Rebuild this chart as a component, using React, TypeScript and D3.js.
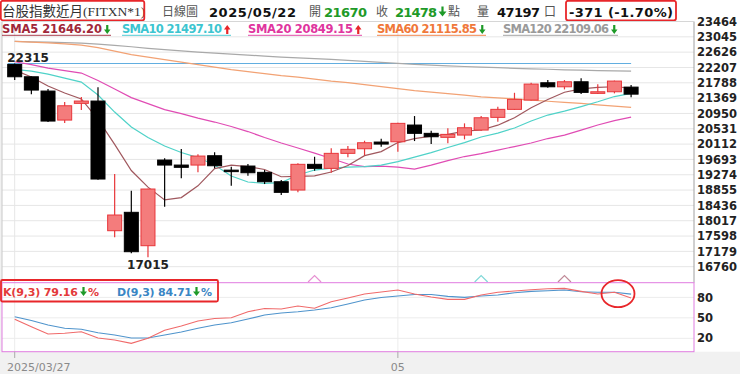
import React from 'react';
import * as d3 from 'd3';

// ---- data ----
const opens = [22290, 21953, 21562, 20769, 21226, 21289, 17744, 18247, 17334, 19676, 19539, 19539, 19794, 19400, 19512, 19340, 19083, 18856, 19559, 19449, 19859, 19985, 20168, 20176, 20633, 20406, 20297, 20359, 20496, 20843, 21062, 21316, 21789, 21679, 21816, 21499, 21543, 21670];
const highs = [22315, 21960, 21617, 21261, 21398, 21663, 19293, 18837, 18890, 19722, 19977, 19832, 19887, 19493, 19567, 19403, 19130, 19586, 19766, 19996, 20059, 20204, 20258, 20696, 20879, 20477, 20542, 20679, 20879, 21133, 21515, 21789, 21863, 21863, 21909, 21745, 21849, 21726];
const lows = [21863, 21472, 20715, 20688, 21043, 19140, 17563, 17126, 17015, 18400, 19176, 19340, 19449, 18974, 19247, 19020, 18720, 18793, 19384, 19329, 19750, 19805, 20040, 19903, 20195, 20113, 20133, 20242, 20480, 20723, 21050, 21302, 21652, 21608, 21480, 21480, 21499, 21390];
const closes = [21953, 21589, 20742, 21160, 21289, 19157, 18173, 17170, 18884, 19539, 19477, 19785, 19520, 19370, 19329, 19083, 18793, 19559, 19449, 19859, 19969, 20149, 20113, 20679, 20406, 20313, 20378, 20559, 20832, 21062, 21335, 21753, 21679, 21816, 21526, 21543, 21835, 21478];

const sma5 = [22135, 21945, 21700, 21510, 21347, 20787, 20104, 19390, 18935, 18585, 18649, 18971, 19441, 19538, 19496, 19417, 19219, 19227, 19243, 19349, 19526, 19797, 19908, 20154, 20263, 20332, 20378, 20467, 20498, 20629, 20833, 21108, 21332, 21529, 21622, 21663, 21680, 21646];
const sma10 = [22155, 22108, 22026, 21917, 21808, 21453, 20988, 20578, 20291, 20059, 19881, 19744, 19539, 19239, 19075, 19039, 19061, 19266, 19403, 19457, 19485, 19498, 19539, 19635, 19758, 19881, 20018, 20154, 20305, 20414, 20551, 20742, 20906, 21015, 21138, 21269, 21412, 21497];
const sma20 = [22363, 22286, 22191, 22122, 22054, 21849, 21617, 21384, 21220, 21056, 20947, 20824, 20715, 20592, 20455, 20291, 20141, 20004, 19867, 19717, 19567, 19498, 19512, 19485, 19430, 19539, 19662, 19772, 19854, 19949, 20045, 20141, 20264, 20359, 20496, 20633, 20756, 20849];
const sma60 = [22920, 22901, 22879, 22852, 22819, 22751, 22655, 22559, 22491, 22423, 22354, 22286, 22218, 22149, 22095, 22040, 21985, 21945, 21890, 21835, 21794, 21740, 21685, 21630, 21576, 21535, 21494, 21453, 21403, 21376, 21349, 21316, 21283, 21253, 21226, 21187, 21152, 21116];
const sma120 = [22920, 22909, 22898, 22887, 22874, 22846, 22811, 22773, 22729, 22693, 22660, 22628, 22600, 22573, 22546, 22518, 22491, 22469, 22447, 22428, 22401, 22374, 22346, 22319, 22294, 22272, 22253, 22234, 22218, 22201, 22185, 22171, 22158, 22144, 22133, 22122, 22114, 22109];

const kValues = [47.9, 37, 26.3, 27.4, 29.7, 20.5, 17.6, 12.7, 20, 31.8, 38, 45.4, 49, 50.2, 59, 63.7, 63, 67.3, 64, 73.6, 79, 84.9, 87.8, 90.7, 84.9, 80.5, 77.1, 77.1, 83.4, 87.4, 89.3, 91.2, 92.6, 93.2, 88.8, 84.9, 87.4, 79.16];
const dValues = [51.7, 46.1, 39.5, 34.7, 33.2, 28.2, 24.9, 20.5, 20.5, 24.9, 29.3, 34.7, 39.5, 42.9, 48.3, 54.1, 57.1, 59, 61.5, 64.8, 70.2, 76.1, 79.8, 82, 84.2, 84.2, 81.5, 80, 82, 83.4, 86.8, 88.8, 89.7, 90.7, 88.2, 87.4, 87.4, 84.71];

const priceTicks = [16760, 17179, 17598, 18017, 18436, 18855, 19274, 19693, 20112, 20531, 20950, 21369, 21788, 22207, 22626, 23045, 23464];
const kdTicks = [20, 50, 80];
const dateTicks = [
  { index: 0, label: '2025/03/27' },
  { index: 23, label: '05' },
];
const crossMarkers = [
  { index: 18, color: '#e690d2' },
  { index: 28, color: '#80d8d8' },
  { index: 33, color: '#c08a98' },
];
const periodHigh = { index: 0, value: 22315 };
const periodLow = { index: 8, value: 17015 };

const smaLegend = [
  { name: 'SMA5', value: '21646.20', up: false, color: '#a0283a', x: 2, w: 100 },
  { name: 'SMA10', value: '21497.10', up: true, color: '#3cc5d0', x: 122, w: 100 },
  { name: 'SMA20', value: '20849.15', up: true, color: '#e0359e', x: 248, w: 105 },
  { name: 'SMA60', value: '21115.85', up: false, color: '#f0783a', x: 377, w: 100 },
  { name: 'SMA120', value: '22109.06', up: false, color: '#9a9a9a', x: 503, w: 106 },
];

const smaSeries = [
  { data: sma120, color: '#a9a9a9' },
  { data: sma60, color: '#f2a274' },
  { data: sma20, color: '#e04cb4' },
  { data: sma10, color: '#4fd2c8' },
  { data: sma5, color: '#a0585e' },
];

const W = 740;
const H = 374;
const NUM = "'DejaVu Sans', Verdana, sans-serif";
const CJK = "'Liberation Serif', 'Noto Sans CJK TC', serif";
const GREEN = '#1e9a28';
const RED = '#e8262a';

function Arrow({ x, y, up, color, h = 9, w = 7 }: { x: number; y: number; up: boolean; color: string; h?: number; w?: number }) {
  const cx = x + w / 2;
  const sw = 2.2;
  const headH = h * 0.5;
  let d: string;
  if (up) {
    d = `M${cx} ${y} L${x + w} ${y + headH} L${cx + sw / 2} ${y + headH} L${cx + sw / 2} ${y + h} L${cx - sw / 2} ${y + h} L${cx - sw / 2} ${y + headH} L${x} ${y + headH} Z`;
  } else {
    d = `M${cx} ${y + h} L${x + w} ${y + h - headH} L${cx + sw / 2} ${y + h - headH} L${cx + sw / 2} ${y} L${cx - sw / 2} ${y} L${cx - sw / 2} ${y + h - headH} L${x} ${y + h - headH} Z`;
  }
  return <path d={d} fill={color} />;
}

export default function App() {
  const n = closes.length;
  const x = d3.scaleLinear().domain([0, n - 1]).range([14.7, 631.1]);
  const y = d3.scaleLinear().domain([16760, 23464]).range([266.7, 21.5]);
  const kdY = d3.scaleLinear().domain([0, 100]).range([352, 283.7]);

  const priceLine = d3.line<number>().x((_, i) => x(i)).y((d) => y(d));
  const kdLine = d3.line<number>().x((_, i) => x(i)).y((d) => kdY(d));

  const panelL = 2;
  const panelR = 694;
  const panelT = 21.5;
  const panelB = 282;
  const kdT = 282.7;
  const kdB = 351.7;
  const bodyW = 14;

  return (
    <svg width={W} height={H} style={{ position: 'absolute', left: 0, top: 0, background: '#ffffff' }}>
      <rect x={0} y={0} width={W} height={H} fill="#ffffff" />
      <rect x={0} y={kdB} width={W} height={H - kdB} fill="#f1f1f1" />
      <rect x={0} y={panelT} width={panelL} height={kdB - panelT} fill="#f1f1f1" />

      {/* header */}
      <text x={2} y={15.5} fontFamily={CJK} fontSize={13.5} fill="#333">台股指數近月(FITXN*1)</text>
      <rect x={0.8} y={0.8} width={143.5} height={19.5} rx={2} fill="none" stroke={RED} strokeWidth={1.8} />
      <text x={162} y={16} fontFamily={CJK} fontSize={12} fill="#555">日線圖</text>
      <text x={209} y={16.5} fontFamily={NUM} fontWeight="bold" fontSize={13} fill="#111" textLength={87} lengthAdjust="spacing">2025/05/22</text>
      <text x={309} y={16} fontFamily={CJK} fontSize={12} fill="#555">開</text>
      <text x={324} y={16.5} fontFamily={NUM} fontWeight="bold" fontSize={13} fill={GREEN} textLength={43} lengthAdjust="spacing">21670</text>
      <text x={376} y={16} fontFamily={CJK} fontSize={12} fill="#555">收</text>
      <text x={395} y={16.5} fontFamily={NUM} fontWeight="bold" fontSize={13} fill={GREEN} textLength={42} lengthAdjust="spacing">21478</text>
      <Arrow x={438.5} y={6.5} up={false} color={GREEN} h={10} w={8} />
      <text x={448} y={16} fontFamily={CJK} fontSize={12} fill="#555">點</text>
      <text x={477} y={16} fontFamily={CJK} fontSize={12} fill="#555">量</text>
      <text x={497} y={16.5} fontFamily={NUM} fontWeight="bold" fontSize={13} fill="#111" textLength={43} lengthAdjust="spacing">47197</text>
      <text x={544} y={16} fontFamily={CJK} fontSize={12} fill="#555">口</text>
      <text x={569} y={16.5} fontFamily={NUM} fontWeight="bold" fontSize={13} fill="#111" textLength={104} lengthAdjust="spacing">-371 (-1.70%)</text>
      <rect x={566} y={0.8} width={110} height={19.5} rx={2} fill="none" stroke={RED} strokeWidth={1.8} />

      {/* main panel */}
      <rect x={panelL} y={panelT} width={panelR - panelL} height={panelB - panelT} fill="#ffffff" />
      {priceTicks.map((t) => (
        <line key={'g' + t} x1={panelL} x2={panelR} y1={y(t)} y2={y(t)} stroke="#e6e6e6" strokeWidth={1} />
      ))}
      {dateTicks.map((t) => (
        <line key={'vg' + t.index} x1={x(t.index)} x2={x(t.index)} y1={panelT} y2={kdB} stroke="#e6e6e6" strokeWidth={1} />
      ))}
      <line x1={panelL} x2={panelL} y1={panelT} y2={panelB} stroke="#c8c8c8" />
      <line x1={panelR} x2={panelR} y1={panelT} y2={kdT} stroke="#a0a0a0" />
      <line x1={panelL} x2={panelR} y1={panelT} y2={panelT} stroke="#d6d6d6" />

      {/* SMA legend */}
      {smaLegend.map((s) => (
        <g key={s.name}>
          <text x={s.x} y={33} fontFamily={NUM} fontWeight="bold" fontSize={11.5} fill={s.color} textLength={s.w} lengthAdjust="spacing">
            {s.name} {s.value}
          </text>
          <line x1={s.x} x2={s.x + s.w + 9} y1={35.3} y2={35.3} stroke={s.color} strokeWidth={0.9} />
          <Arrow x={s.x + s.w + 2} y={25} up={s.up} color={s.up ? RED : GREEN} h={9} w={6.5} />
        </g>
      ))}

      {/* period high line */}
      <line x1={x(periodHigh.index) - 7} x2={x(n - 1)} y1={y(periodHigh.value)} y2={y(periodHigh.value)} stroke="#62aee0" strokeWidth={1.1} />

      {/* moving averages */}
      {smaSeries.map((s, k) => (
        <path key={'sma' + k} d={priceLine(s.data) || ''} fill="none" stroke={s.color} strokeWidth={1.2} />
      ))}

      {/* candles */}
      {closes.map((c, i) => {
        const o = opens[i];
        const up = c >= o;
        const cx = x(i);
        const top = y(Math.max(o, c));
        const bot = y(Math.min(o, c));
        const h = Math.max(bot - top, 1.5);
        const col = up ? '#e8363a' : '#000000';
        return (
          <g key={'c' + i}>
            <line x1={cx} x2={cx} y1={y(highs[i])} y2={y(lows[i])} stroke={col} strokeWidth={1.2} />
            <rect x={cx - bodyW / 2} y={top} width={bodyW} height={h} fill={up ? '#f47c7c' : '#000000'} stroke={col} strokeWidth={1} />
          </g>
        );
      })}

      {/* high/low labels */}
      <text x={x(periodHigh.index) - 7.5} y={62} fontFamily={NUM} fontWeight="bold" fontSize={12} fill="#222">{periodHigh.value}</text>
      <text x={x(periodLow.index)} y={268.5} textAnchor="middle" fontFamily={NUM} fontWeight="bold" fontSize={12} fill="#222">{periodLow.value}</text>

      {/* price axis */}
      {priceTicks.map((t) => (
        <text key={'pt' + t} x={697} y={y(t)} dy="0.36em" fontFamily={NUM} fontWeight="bold" fontSize={11.5} fill="#222">{t}</text>
      ))}

      {/* cross markers */}
      {crossMarkers.map((m) => (
        <path key={'m' + m.index} d={`M${x(m.index) - 6.5} ${panelB} L${x(m.index)} ${275.5} L${x(m.index) + 6.5} ${panelB}`} fill="none" stroke={m.color} strokeWidth={1.2} />
      ))}

      {/* KD panel */}
      <rect x={panelL} y={kdT} width={panelR - panelL} height={kdB - kdT} fill="#ffffff" />
      {kdTicks.map((t) => (
        <line key={'kg' + t} x1={panelL} x2={panelR} y1={kdY(t)} y2={kdY(t)} stroke="#ececec" />
      ))}
      {dateTicks.map((t) => (
        <line key={'kvg' + t.index} x1={x(t.index)} x2={x(t.index)} y1={kdT} y2={kdB} stroke="#ececec" />
      ))}
      <path d={kdLine(dValues) || ''} fill="none" stroke="#4f94cc" strokeWidth={1.1} />
      <path d={kdLine(kValues) || ''} fill="none" stroke="#f06a6a" strokeWidth={1.1} />
      <rect x={panelL} y={kdT} width={panelR - panelL} height={kdB - kdT} fill="none" stroke="#e07ce0" strokeWidth={1} />
      {kdTicks.map((t) => (
        <text key={'kt' + t} x={697} y={kdY(t)} dy="0.36em" fontFamily={NUM} fontWeight="bold" fontSize={11.5} fill="#222">{t}</text>
      ))}

      {/* KD legend */}
      <text x={3} y={296} fontFamily={NUM} fontWeight="bold" fontSize={11} fill="#e33a3a" textLength={75} lengthAdjust="spacing">K(9,3) 79.16</text>
      <Arrow x={80} y={287} up={false} color={GREEN} h={9} w={7} />
      <text x={88} y={296} fontFamily={NUM} fontWeight="bold" fontSize={11} fill="#e33a3a">%</text>
      <text x={117} y={296} fontFamily={NUM} fontWeight="bold" fontSize={11} fill="#3a86c4" textLength={75} lengthAdjust="spacing">D(9,3) 84.71</text>
      <Arrow x={193} y={287} up={false} color={GREEN} h={9} w={7} />
      <text x={201} y={296} fontFamily={NUM} fontWeight="bold" fontSize={11} fill="#3a86c4">%</text>
      <rect x={1} y={280} width={217} height={21.5} rx={1.5} fill="none" stroke={RED} strokeWidth={1.8} />

      {/* annotation circle */}
      <ellipse cx={618} cy={293.7} rx={16.5} ry={13.5} fill="none" stroke={RED} strokeWidth={1.8} />

      {/* date axis */}
      {dateTicks.map((t) => (
        <g key={'dt' + t.index}>
          <line x1={x(t.index)} x2={x(t.index)} y1={kdB} y2={358} stroke="#aaa" />
          <text x={t.index === 0 ? 7 : x(t.index)} y={371} textAnchor={t.index === 0 ? 'start' : 'middle'} fontFamily={NUM} fontSize={11} fill="#8a8a8a">{t.label}</text>
        </g>
      ))}
    </svg>
  );
}
